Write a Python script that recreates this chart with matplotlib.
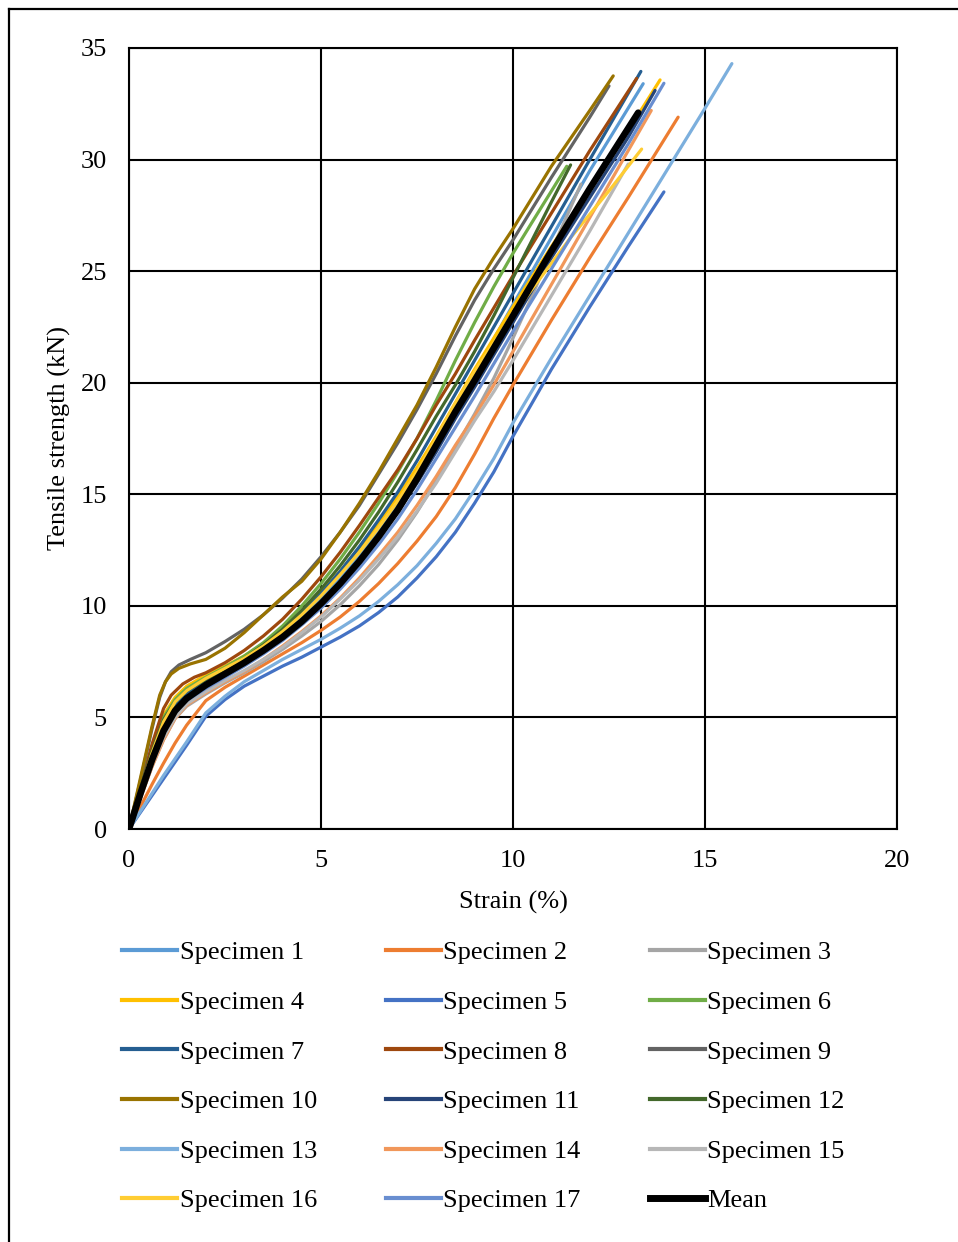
import matplotlib
matplotlib.use("Agg")
import matplotlib.pyplot as plt
from matplotlib.lines import Line2D

plt.rcParams['font.family'] = ['Liberation Serif', 'DejaVu Serif']

# ---------------- data (strain %, tensile strength kN) ----------------
s1_x = [0, 0.3, 0.6, 0.9, 1.2, 1.5, 2.0, 2.5, 3.0, 3.5, 4.0, 4.5, 5.0, 5.5, 6.0, 6.5, 7.0, 7.5, 8.0, 8.5, 9.0, 10.0, 11.0, 12.0, 13.39]
s1_y = [0, 1.6, 3.2, 4.6, 5.45, 6.0, 6.55, 7.05, 7.55, 8.1, 8.75, 9.5, 10.3, 11.2, 12.2, 13.3, 14.5, 15.85, 17.3, 18.8, 20.4, 23.5, 26.5, 29.5, 33.4]

s2_x = [0, 0.3, 0.6, 0.9, 1.2, 1.5, 2.0, 2.5, 3.0, 3.5, 4.0, 4.5, 5.0, 5.5, 6.0, 6.5, 7.0, 7.5, 8.0, 8.5, 9.0, 9.5, 10.0, 11.0, 12.0, 13.0, 14.3]
s2_y = [0, 1.0, 2.0, 2.95, 3.85, 4.65, 5.75, 6.35, 6.85, 7.35, 7.85, 8.35, 8.9, 9.5, 10.2, 11.0, 11.9, 12.9, 14.0, 15.3, 16.8, 18.4, 19.9, 22.8, 25.6, 28.3, 31.9]

s3_x = [0, 0.3, 0.6, 0.9, 1.2, 1.5, 2.0, 2.5, 3.0, 3.5, 4.0, 4.5, 5.0, 5.5, 6.0, 6.5, 7.0, 7.5, 8.0, 8.5, 9.0, 9.5, 10.0, 10.5, 11.0, 11.77]
s3_y = [0, 1.4, 2.8, 4.0, 4.95, 5.5, 6.05, 6.55, 7.0, 7.5, 8.05, 8.65, 9.3, 10.05, 10.9, 11.85, 12.95, 14.2, 15.6, 17.1, 18.6, 20.2, 22.0, 23.9, 25.9, 28.9]

s4_x = [0, 0.3, 0.6, 0.9, 1.2, 1.5, 2.0, 2.5, 3.0, 3.5, 4.0, 4.5, 5.0, 5.5, 6.0, 6.5, 7.0, 7.5, 8.0, 8.5, 9.0, 10.0, 11.0, 12.0, 13.0, 13.83]
s4_y = [0, 1.8, 3.6, 5.1, 5.9, 6.4, 6.9, 7.3, 7.75, 8.3, 8.95, 9.75, 10.6, 11.55, 12.6, 13.7, 14.9, 16.2, 17.6, 19.1, 20.6, 23.4, 26.1, 28.7, 31.3, 33.57]

s5_x = [0, 0.3, 0.6, 0.9, 1.2, 1.5, 2.0, 2.5, 3.0, 3.5, 4.0, 4.5, 5.0, 5.5, 6.0, 6.5, 7.0, 7.5, 8.0, 8.5, 9.0, 9.5, 10.0, 10.5, 11.0, 12.0, 13.0, 13.93]
s5_y = [0, 0.75, 1.5, 2.25, 3.0, 3.75, 5.05, 5.8, 6.4, 6.85, 7.3, 7.7, 8.15, 8.6, 9.1, 9.7, 10.4, 11.25, 12.2, 13.3, 14.6, 16.0, 17.6, 19.1, 20.6, 23.4, 26.1, 28.55]

s6_x = [0, 0.3, 0.6, 0.9, 1.2, 1.5, 2.0, 2.5, 3.0, 3.5, 4.0, 4.5, 5.0, 5.5, 6.0, 6.5, 7.0, 7.5, 8.0, 8.5, 9.0, 9.5, 10.0, 10.5, 11.4]
s6_y = [0, 1.8, 3.6, 5.0, 5.8, 6.3, 6.8, 7.25, 7.75, 8.35, 9.1, 10.0, 11.0, 12.1, 13.3, 14.6, 16.0, 17.5, 19.2, 21.0, 22.7, 24.3, 25.8, 27.2, 29.7]

s7_x = [0, 0.3, 0.6, 0.9, 1.2, 1.5, 2.0, 2.5, 3.0, 3.5, 4.0, 4.5, 5.0, 5.5, 6.0, 6.5, 7.0, 7.5, 8.0, 8.5, 9.0, 10.0, 11.0, 12.0, 13.33]
s7_y = [0, 1.7, 3.4, 4.8, 5.6, 6.1, 6.6, 7.05, 7.55, 8.15, 8.85, 9.65, 10.55, 11.55, 12.65, 13.85, 15.1, 16.5, 18.0, 19.5, 21.0, 24.0, 27.0, 30.0, 33.95]

s8_x = [0, 0.3, 0.6, 0.9, 1.1, 1.4, 1.7, 2.0, 2.5, 3.0, 3.5, 4.0, 4.5, 5.0, 5.5, 6.0, 6.5, 7.0, 7.5, 8.0, 8.5, 9.0, 10.0, 11.0, 12.0, 13.22]
s8_y = [0, 1.9, 3.8, 5.4, 6.0, 6.5, 6.8, 7.0, 7.45, 8.0, 8.65, 9.4, 10.3, 11.3, 12.4, 13.6, 14.85, 16.1, 17.5, 19.0, 20.4, 21.9, 24.8, 27.6, 30.4, 33.64]

s9_x = [0, 0.3, 0.6, 0.8, 0.95, 1.1, 1.3, 1.6, 2.0, 2.5, 3.0, 3.5, 4.0, 4.5, 5.0, 5.5, 6.0, 6.5, 7.0, 7.5, 8.0, 8.5, 9.0, 9.5, 10.0, 11.0, 12.0, 12.5]
s9_y = [0, 2.2, 4.5, 5.9, 6.6, 7.05, 7.35, 7.6, 7.9, 8.4, 8.95, 9.6, 10.35, 11.2, 12.2, 13.3, 14.5, 15.9, 17.3, 18.8, 20.4, 22.1, 23.7, 25.1, 26.4, 29.2, 31.9, 33.3]

s10_x = [0, 0.3, 0.6, 0.8, 0.95, 1.1, 1.3, 1.6, 2.0, 2.5, 3.0, 3.5, 4.0, 4.5, 5.0, 5.5, 6.0, 6.5, 7.0, 7.5, 8.0, 8.5, 9.0, 9.5, 10.0, 11.0, 12.0, 12.61]
s10_y = [0, 2.3, 4.6, 6.0, 6.6, 6.95, 7.2, 7.4, 7.6, 8.1, 8.8, 9.6, 10.4, 11.1, 12.1, 13.3, 14.6, 16.0, 17.5, 19.0, 20.7, 22.5, 24.2, 25.6, 26.9, 29.7, 32.2, 33.75]

s11_x = [0, 0.3, 0.6, 0.9, 1.2, 1.5, 2.0, 2.5, 3.0, 3.5, 4.0, 4.5, 5.0, 5.5, 6.0, 6.5, 7.0, 7.5, 8.0, 8.5, 9.0, 10.0, 11.0, 12.0, 13.0, 13.7]
s11_y = [0, 1.6, 3.1, 4.45, 5.35, 5.9, 6.4, 6.9, 7.4, 7.95, 8.55, 9.25, 10.05, 10.95, 11.9, 13.0, 14.2, 15.5, 16.9, 18.4, 19.8, 22.7, 25.6, 28.3, 31.0, 33.1]

s12_x = [0, 0.3, 0.6, 0.9, 1.2, 1.5, 2.0, 2.5, 3.0, 3.5, 4.0, 4.5, 5.0, 5.5, 6.0, 6.5, 7.0, 7.5, 8.0, 8.5, 9.0, 9.5, 10.0, 10.5, 11.0, 11.5]
s12_y = [0, 1.8, 3.5, 4.9, 5.7, 6.2, 6.7, 7.15, 7.65, 8.25, 8.95, 9.8, 10.75, 11.8, 12.95, 14.2, 15.55, 17.0, 18.5, 19.9, 21.4, 23.0, 24.7, 26.4, 28.1, 29.76]

s13_x = [0, 0.3, 0.6, 0.9, 1.2, 1.5, 2.0, 2.5, 3.0, 3.5, 4.0, 4.5, 5.0, 5.5, 6.0, 6.5, 7.0, 7.5, 8.0, 8.5, 9.0, 9.5, 10.0, 10.62, 11.0, 12.0, 13.0, 14.0, 15.0, 15.7]
s13_y = [0, 0.8, 1.6, 2.4, 3.15, 3.9, 5.2, 5.95, 6.6, 7.1, 7.6, 8.05, 8.5, 9.0, 9.55, 10.2, 10.95, 11.8, 12.8, 13.9, 15.2, 16.6, 18.2, 20.0, 21.1, 23.9, 26.7, 29.5, 32.3, 34.3]

s14_x = [0, 0.3, 0.6, 0.9, 1.2, 1.5, 2.0, 2.5, 3.0, 3.5, 4.0, 4.5, 5.0, 5.5, 6.0, 6.5, 7.0, 7.5, 8.0, 8.5, 9.0, 9.5, 10.0, 11.0, 12.0, 13.0, 13.6]
s14_y = [0, 1.4, 2.8, 4.0, 4.95, 5.55, 6.1, 6.6, 7.05, 7.6, 8.2, 8.85, 9.55, 10.35, 11.25, 12.25, 13.3, 14.5, 15.8, 17.2, 18.5, 19.9, 21.4, 24.4, 27.4, 30.4, 32.2]

s15_x = [0, 0.3, 0.6, 0.9, 1.2, 1.5, 2.0, 2.5, 3.0, 3.5, 4.0, 4.5, 5.0, 5.5, 6.0, 6.5, 7.0, 7.5, 8.0, 8.5, 9.0, 9.5, 10.0, 11.0, 12.0, 13.0]
s15_y = [0, 1.45, 2.9, 4.1, 5.0, 5.6, 6.15, 6.65, 7.1, 7.6, 8.15, 8.8, 9.5, 10.3, 11.15, 12.1, 13.1, 14.25, 15.5, 16.9, 18.3, 19.6, 21.0, 23.9, 26.8, 29.8]

s16_x = [0, 0.3, 0.6, 0.9, 1.2, 1.5, 2.0, 2.5, 3.0, 3.5, 4.0, 4.5, 5.0, 5.5, 6.0, 6.5, 7.0, 7.5, 8.0, 8.5, 9.0, 9.74, 10.5, 11.5, 12.5, 13.35]
s16_y = [0, 1.7, 3.4, 4.8, 5.7, 6.2, 6.75, 7.2, 7.65, 8.2, 8.85, 9.6, 10.45, 11.4, 12.4, 13.5, 14.7, 16.0, 17.5, 19.1, 20.5, 22.4, 24.2, 26.5, 28.6, 30.47]

s17_x = [0, 0.3, 0.6, 0.9, 1.2, 1.5, 2.0, 2.5, 3.0, 3.5, 4.0, 4.5, 5.0, 5.5, 6.0, 6.5, 7.0, 7.5, 8.0, 8.5, 9.0, 10.0, 11.0, 12.0, 13.0, 13.93]
s17_y = [0, 1.5, 3.0, 4.3, 5.2, 5.75, 6.3, 6.8, 7.3, 7.85, 8.45, 9.15, 9.9, 10.75, 11.7, 12.75, 13.9, 15.2, 16.6, 18.0, 19.4, 22.3, 25.1, 27.9, 30.7, 33.42]

mean_x = [0, 0.3, 0.6, 0.9, 1.2, 1.5, 2.0, 2.5, 3.0, 3.5, 4.0, 4.5, 5.0, 5.5, 6.0, 6.5, 7.0, 7.5, 8.0, 8.5, 9.0, 10.0, 11.0, 12.0, 13.26]
mean_y = [0, 1.6, 3.1, 4.4, 5.3, 5.85, 6.45, 6.95, 7.45, 8.0, 8.6, 9.3, 10.1, 11.0, 12.0, 13.1, 14.3, 15.7, 17.2, 18.7, 20.1, 23.0, 25.9, 28.7, 32.1]

labels = ["Specimen %d" % i for i in range(1, 18)] + ["Mean"]
colors = ["#5B9BD5", "#ED7D31", "#A5A5A5", "#FFC000", "#4472C4", "#70AD47",
          "#255E91", "#9E480E", "#636363", "#997300", "#264478", "#43682B",
          "#7CAFDD", "#F1975A", "#B7B7B7", "#FFCD33", "#698ED0", "#000000"]
series_x = [s1_x, s2_x, s3_x, s4_x, s5_x, s6_x, s7_x, s8_x, s9_x, s10_x, s11_x, s12_x,
            s13_x, s14_x, s15_x, s16_x, s17_x, mean_x]
series_y = [s1_y, s2_y, s3_y, s4_y, s5_y, s6_y, s7_y, s8_y, s9_y, s10_y, s11_y, s12_y,
            s13_y, s14_y, s15_y, s16_y, s17_y, mean_y]

x_ticks = [0, 5, 10, 15, 20]
y_ticks = [0, 5, 10, 15, 20, 25, 30, 35]

# ---------------- figure ----------------
W, H = 958, 1242
fig = plt.figure(figsize=(W / 100, H / 100), dpi=100)
ax = fig.add_axes([129 / W, (H - 829) / H, 768 / W, 781 / H])

for i, (xs, ys) in enumerate(zip(series_x, series_y)):
    is_mean = labels[i] == "Mean"
    ax.plot(xs, ys, color=colors[i], lw=4.8 if is_mean else 2.3,
            solid_capstyle='round', solid_joinstyle='round',
            zorder=5 if is_mean else 3, label=labels[i])

ax.set_xlim(0, 20)
ax.set_ylim(0, 35)
ax.set_xticks(x_ticks)
ax.set_yticks(y_ticks)
ax.grid(True, color='black', lw=1.5)
ax.set_axisbelow(True)
for sp in ax.spines.values():
    sp.set_color('black')
    sp.set_linewidth(1.5)
ax.tick_params(length=0, labelsize=19, colors='black', pad=15)
ax.tick_params(axis='y', pad=16)
ax.set_xlabel("Strain (%)", fontsize=19, labelpad=14)
ax.set_ylabel("Tensile strength (kN)", fontsize=19, labelpad=7)

# legend: three columns, filled row by row
ncol = 3
nrow = 6
order = [r * ncol + c for c in range(ncol) for r in range(nrow)]
leg_handles = [Line2D([], [], color=colors[i], lw=5 if labels[i] == "Mean" else 3) for i in order]
leg_labels = [labels[i] for i in order]
fig.legend(leg_handles, leg_labels, loc='upper left', ncol=ncol,
           bbox_to_anchor=(122 / W, 1 - 941 / H), bbox_transform=fig.transFigure,
           frameon=False, fontsize=19, handlelength=2.1, handletextpad=0.08,
           columnspacing=2.62, labelspacing=0.99, borderpad=0, borderaxespad=0)

# outer border (left and top edges visible)
fig.add_artist(Line2D([8.5 / W, 8.5 / W], [0, 1 - 8.5 / H], color='black', lw=1.6,
                      transform=fig.transFigure))
fig.add_artist(Line2D([8.5 / W, 1], [1 - 8.5 / H, 1 - 8.5 / H], color='black', lw=1.6,
                      transform=fig.transFigure))

fig.savefig("out.png", dpi=100)
